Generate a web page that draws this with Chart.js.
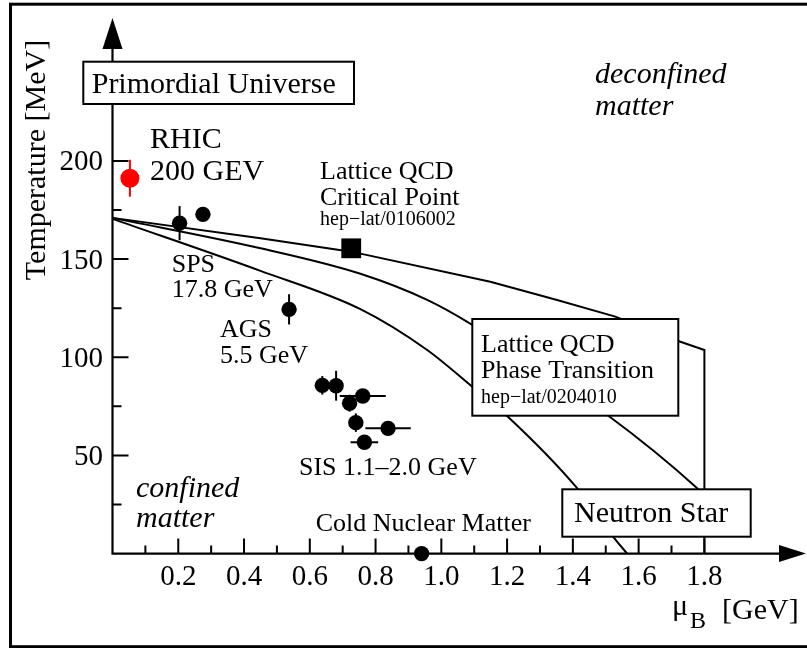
<!DOCTYPE html>
<html>
<head>
<meta charset="utf-8">
<script src="https://cdn.jsdelivr.net/npm/chart.js@4.4.1/dist/chart.umd.min.js"></script>
<style>
  html, body { margin: 0; padding: 0; background: #fff; }
  canvas { display: block; }
</style>
</head>
<body>
<canvas id="phaseChart" width="807" height="648"></canvas>
<script>
// axis ticks (mu_B in GeV, T in MeV)
const xMajor = [0.2, 0.4, 0.6, 0.8, 1.0, 1.2, 1.4, 1.6, 1.8];
const xMinor = [0.1, 0.3, 0.5, 0.7, 0.9, 1.1, 1.3, 1.5, 1.7];
const yMajor = [50, 100, 150, 200];
const yMinor = [25, 75, 125, 175];

// chemical freeze-out points
const rhicMu = [0.053];
const rhicT = [191.2];
const rhicErrT = [9.4];

const spsMu = [0.204, 0.275];
const spsT = [168.3, 172.8];
const spsErrT = [8.7, 0];

const agsMu = [0.537];
const agsT = [124.4];
const agsErrT = [7.7];

const sisMu = [0.638, 0.680, 0.721, 0.761, 0.740, 0.838, 0.766];
const sisT = [85.7, 85.5, 76.6, 80.3, 66.7, 63.8, 56.7];
const sisErrT = [4.7, 7.6, 4.3, 0, 4.7, 2.8, 0];
const sisErrMu = [0, 0, 0, 0.07, 0, 0.069, 0.042];

const coldMu = [0.94];
const coldT = [0];

// lattice critical point (hep-lat/0106002)
const critMu = [0.726];
const critT = [155.5];

// phase boundary curves
const curveAMu = [0, 0.45, 0.726, 1.149, 1.352, 1.529, 1.727, 1.8, 1.8];
const curveAT = [171, 160.6, 153.8, 138.5, 129.2, 120.7, 107.9, 103.7, 0];
const curveBMu = [0, 0.45, 0.754, 0.957, 1.094, 1.509, 1.773, 1.87];
const curveBT = [171, 155.5, 142.5, 129.2, 116.5, 70.1, 34.1, 18];
const curveCMu = [0, 0.45, 0.754, 0.957, 1.094, 1.2, 1.413, 1.524, 1.565];
const curveCT = [170.5, 144, 124.5, 103.7, 85.0, 70.1, 33.3, 8.3, 0];

const pts = (xs, ys) => xs.map((v, i) => ({ x: v, y: ys[i] }));

const SERIF = '"Liberation Serif", "Times New Roman", serif';

function curve(xs, ys, smooth) {
    return {
        type: 'line', data: pts(xs, ys), borderColor: '#000', borderWidth: 2,
        pointRadius: 0, fill: false, showLine: true, clip: false, order: 5,
        tension: 0, cubicInterpolationMode: smooth ? 'monotone' : 'default'
    };
}

function marks(xs, ys, color, r, extra) {
    return Object.assign({
        type: 'scatter', data: pts(xs, ys), backgroundColor: color, borderColor: color,
        borderWidth: 0, pointRadius: r, pointHoverRadius: r, clip: false, order: 1
    }, extra || {});
}

function text(ctx, str, x, y, size, italic) {
    ctx.font = (italic ? 'italic ' : '') + size + 'px ' + SERIF;
    ctx.fillText(str, x, y);
}

function box(ctx, l, t, r, b) {
    ctx.fillStyle = '#fff';
    ctx.fillRect(l, t, r - l, b - t);
    ctx.strokeStyle = '#000';
    ctx.lineWidth = 2;
    ctx.strokeRect(l, t, r - l, b - t);
    ctx.fillStyle = '#000';
}

const phasePlot = {
    id: 'phasePlot',
    beforeDatasetsDraw(chart) {
        const { ctx, scales: { x, y } } = chart;
        // error bars under the markers
        chart.data.datasets.forEach(ds => {
            if (!ds.errT && !ds.errMu) return;
            ctx.save();
            ctx.strokeStyle = ds.borderColor;
            ctx.lineWidth = 2;
            ds.data.forEach((p, i) => {
                const px = x.getPixelForValue(p.x), py = y.getPixelForValue(p.y);
                const eT = ds.errT ? ds.errT[i] : 0;
                const eM = ds.errMu ? ds.errMu[i] : 0;
                ctx.beginPath();
                if (eT) {
                    ctx.moveTo(px, y.getPixelForValue(p.y - eT));
                    ctx.lineTo(px, y.getPixelForValue(p.y + eT));
                }
                if (eM) {
                    ctx.moveTo(x.getPixelForValue(p.x - eM), py);
                    ctx.lineTo(x.getPixelForValue(p.x + eM), py);
                }
                ctx.stroke();
            });
            ctx.restore();
        });
    },
    afterDatasetsDraw(chart) {
        const { ctx, scales: { x, y } } = chart;
        const x0 = x.getPixelForValue(0), y0 = y.getPixelForValue(0);
        const xEnd = x.getPixelForValue(x.max), yEnd = y.getPixelForValue(y.max);
        ctx.save();

        // outer frame
        ctx.strokeStyle = '#000';
        ctx.lineWidth = 3;
        ctx.strokeRect(10.5, 4.2, 820, 642.5);

        // axes with arrow heads
        ctx.lineWidth = 2.2;
        ctx.beginPath();
        ctx.moveTo(x0, y0 + 1);
        ctx.lineTo(x0, yEnd + 20);
        ctx.moveTo(x0 - 1, y0);
        ctx.lineTo(xEnd - 20, y0);
        ctx.stroke();
        ctx.fillStyle = '#000';
        ctx.beginPath();
        ctx.moveTo(x0, yEnd);
        ctx.lineTo(x0 - 10, yEnd + 31);
        ctx.lineTo(x0 + 10, yEnd + 31);
        ctx.closePath();
        ctx.fill();
        ctx.beginPath();
        ctx.moveTo(xEnd, y0);
        ctx.lineTo(xEnd - 27, y0 - 8.5);
        ctx.lineTo(xEnd - 27, y0 + 8.5);
        ctx.closePath();
        ctx.fill();

        // inward ticks
        ctx.lineWidth = 2;
        ctx.beginPath();
        xMajor.forEach(v => { const p = x.getPixelForValue(v); ctx.moveTo(p, y0); ctx.lineTo(p, y0 - 15); });
        xMinor.forEach(v => { const p = x.getPixelForValue(v); ctx.moveTo(p, y0); ctx.lineTo(p, y0 - 8); });
        yMajor.forEach(v => { const p = y.getPixelForValue(v); ctx.moveTo(x0, p); ctx.lineTo(x0 + 16, p); });
        yMinor.forEach(v => { const p = y.getPixelForValue(v); ctx.moveTo(x0, p); ctx.lineTo(x0 + 9, p); });
        ctx.stroke();

        // tick labels
        ctx.font = '29px ' + SERIF;
        ctx.textAlign = 'center';
        xMajor.forEach(v => ctx.fillText(v.toFixed(1), x.getPixelForValue(v), 585));
        ctx.textAlign = 'right';
        yMajor.forEach(v => ctx.fillText(String(v), 103, y.getPixelForValue(v) + 9.5));

        // axis titles
        ctx.textAlign = 'left';
        ctx.save();
        ctx.translate(45, 160);
        ctx.rotate(-Math.PI / 2);
        ctx.textAlign = 'center';
        text(ctx, 'Temperature [MeV]', 0, 0, 30);
        ctx.restore();
        text(ctx, 'μ', 672, 615, 30);
        text(ctx, 'B', 690, 628, 24);
        text(ctx, '[GeV]', 722, 619, 30);

        // labelled boxes
        box(ctx, 83.3, 61.7, 354, 104);
        text(ctx, 'Primordial Universe', 91.7, 92.7, 30);
        box(ctx, 472.3, 319, 678.3, 415.7);
        text(ctx, 'Lattice QCD', 481, 351.7, 26);
        text(ctx, 'Phase Transition', 481, 378.3, 26);
        text(ctx, 'hep\u2212lat/0204010', 481, 403.3, 20);
        box(ctx, 562.3, 489.3, 750.7, 536.7);
        text(ctx, 'Neutron Star', 574, 522.3, 30);

        // free annotations
        text(ctx, 'RHIC', 150, 148.3, 30);
        text(ctx, '200 GEV', 150, 180, 30);
        text(ctx, 'Lattice QCD', 320, 179.3, 26);
        text(ctx, 'Critical Point', 320, 205, 26);
        text(ctx, 'hep\u2212lat/0106002', 320, 225, 20);
        text(ctx, 'deconfined', 595, 83.3, 30, true);
        text(ctx, 'matter', 595, 115, 30, true);
        text(ctx, 'SPS', 171.7, 271.7, 26);
        text(ctx, '17.8 GeV', 171.7, 297.3, 26);
        text(ctx, 'AGS', 220, 337.3, 26);
        text(ctx, '5.5 GeV', 220, 363.3, 26);
        text(ctx, 'SIS 1.1\u20132.0 GeV', 299, 475, 26);
        text(ctx, 'confined', 136, 496.7, 30, true);
        text(ctx, 'matter', 136, 527.3, 30, true);
        text(ctx, 'Cold Nuclear Matter', 315.7, 530.7, 26);

        ctx.restore();
    }
};

new Chart(document.getElementById('phaseChart'), {
    type: 'scatter',
    data: {
        datasets: [
            marks(critMu, critT, '#000', 14, { pointStyle: 'rect' }),
            marks(rhicMu, rhicT, '#ff0000', 9.5, { errT: rhicErrT }),
            marks(spsMu, spsT, '#000', 7.7, { errT: spsErrT }),
            marks(agsMu, agsT, '#000', 7.7, { errT: agsErrT }),
            marks(sisMu, sisT, '#000', 7.7, { errT: sisErrT, errMu: sisErrMu }),
            marks(coldMu, coldT, '#000', 7.7),
            curve(curveAMu, curveAT, false),
            curve(curveBMu, curveBT, true),
            curve(curveCMu, curveCT, true)
        ]
    },
    options: {
        responsive: false,
        animation: false,
        devicePixelRatio: 1,
        layout: { autoPadding: false, padding: { left: 112.5, top: 18, right: 1, bottom: 94.4 } },
        scales: {
            x: { type: 'linear', min: 0, max: 2.109, display: false },
            y: { type: 'linear', min: 0, max: 272.8, display: false }
        },
        plugins: { legend: { display: false }, tooltip: { enabled: false } }
    },
    plugins: [phasePlot]
});
</script>
</body>
</html>
